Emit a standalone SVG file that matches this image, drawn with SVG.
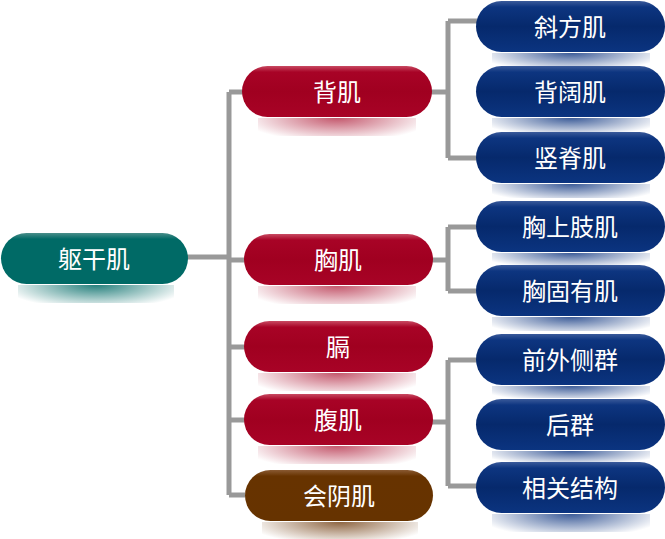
<svg xmlns="http://www.w3.org/2000/svg" width="665" height="539" viewBox="0 0 665 539">
<defs>
<linearGradient id="gBlue" x1="0" y1="0" x2="0" y2="1">
<stop offset="0" stop-color="#3a5a9a"/><stop offset="0.12" stop-color="#0d3580"/><stop offset="0.5" stop-color="#06296c"/><stop offset="1" stop-color="#0b3480"/>
</linearGradient>
<linearGradient id="gRed" x1="0" y1="0" x2="0" y2="1">
<stop offset="0" stop-color="#c84a62"/><stop offset="0.12" stop-color="#a80326"/><stop offset="0.5" stop-color="#a00020"/><stop offset="1" stop-color="#a80326"/>
</linearGradient>
<linearGradient id="gTeal" x1="0" y1="0" x2="0" y2="1">
<stop offset="0" stop-color="#4a8e8a"/><stop offset="0.12" stop-color="#006a66"/><stop offset="1" stop-color="#006a66"/>
</linearGradient>
<linearGradient id="gBrown" x1="0" y1="0" x2="0" y2="1">
<stop offset="0" stop-color="#8a5a32"/><stop offset="0.12" stop-color="#673300"/><stop offset="1" stop-color="#663300"/>
</linearGradient>
<radialGradient id="sBlue" cx="0.5" cy="0" r="0.6" gradientTransform="translate(0.5 0) scale(1 2.2) translate(-0.5 0)">
<stop offset="0" stop-color="#1a3f86" stop-opacity="0.85"/><stop offset="1" stop-color="#1a3f86" stop-opacity="0"/>
</radialGradient>
<radialGradient id="sRed" cx="0.5" cy="0" r="0.6" gradientTransform="translate(0.5 0) scale(1 2.2) translate(-0.5 0)">
<stop offset="0" stop-color="#b0203c" stop-opacity="0.75"/><stop offset="1" stop-color="#b0203c" stop-opacity="0"/>
</radialGradient>
<radialGradient id="sTeal" cx="0.5" cy="0" r="0.6" gradientTransform="translate(0.5 0) scale(1 2.2) translate(-0.5 0)">
<stop offset="0" stop-color="#006a66" stop-opacity="0.85"/><stop offset="1" stop-color="#006a66" stop-opacity="0"/>
</radialGradient>
<radialGradient id="sBrown" cx="0.5" cy="0" r="0.6" gradientTransform="translate(0.5 0) scale(1 2.2) translate(-0.5 0)">
<stop offset="0" stop-color="#7a4a20" stop-opacity="0.85"/><stop offset="1" stop-color="#7a4a20" stop-opacity="0"/>
</radialGradient>
</defs>
<style>
.t{font-family:"Noto Sans CJK SC","Noto Sans",sans-serif;font-size:24px;fill:#fff;text-anchor:middle;dominant-baseline:central}
.c{fill:none;stroke:#999;stroke-width:5}
</style>
<g id="connectors">
<path class="c" d="M186 257 H229 M229 92 V495 M229 92 H245 M229 260 H245 M229 347 H245 M229 420 H245 M229 495 H245"/>
<path class="c" d="M430 92 H448 M448 21 V158 M448 21 H478 M448 158 H478"/>
<path class="c" d="M430 260 H448 M448 227 V291 M448 227 H478 M448 291 H478"/>
<path class="c" d="M430 422 H448 M448 360 V486 M448 360 H478 M448 486 H478"/>
</g>
<g id="n-root"><rect x="18" y="285" width="156" height="18" fill="url(#sTeal)"/><rect x="1" y="233" width="187" height="51" rx="25.5" fill="url(#gTeal)"/><text class="t" x="94" y="257">躯干肌</text></g>
<g id="n-beiji"><rect x="258" y="118" width="158" height="18" fill="url(#sRed)"/><rect x="242" y="66" width="190" height="51" rx="25.5" fill="url(#gRed)"/><text class="t" x="337" y="90">背肌</text></g>
<g id="n-xiongji"><rect x="258" y="286" width="158" height="18" fill="url(#sRed)"/><rect x="244" y="234" width="189" height="51" rx="25.5" fill="url(#gRed)"/><text class="t" x="338" y="258">胸肌</text></g>
<g id="n-ge"><rect x="258" y="373" width="158" height="18" fill="url(#sRed)"/><rect x="244" y="321" width="189" height="51" rx="25.5" fill="url(#gRed)"/><text class="t" x="338" y="345">膈</text></g>
<g id="n-fuji"><rect x="258" y="446" width="158" height="18" fill="url(#sRed)"/><rect x="244" y="394" width="189" height="51" rx="25.5" fill="url(#gRed)"/><text class="t" x="338" y="418">腹肌</text></g>
<g id="n-huiyin"><rect x="262" y="522" width="156" height="17" fill="url(#sBrown)"/><rect x="245" y="470" width="188" height="51" rx="25.5" fill="url(#gBrown)"/><text class="t" x="339" y="494">会阴肌</text></g>
<g id="n-xiefang"><rect x="492" y="53" width="158" height="14" fill="url(#sBlue)"/><rect x="476" y="1" width="189" height="51" rx="25.5" fill="url(#gBlue)"/><text class="t" x="570" y="25">斜方肌</text></g>
<g id="n-beikuo"><rect x="492" y="118" width="158" height="14" fill="url(#sBlue)"/><rect x="476" y="66" width="189" height="51" rx="25.5" fill="url(#gBlue)"/><text class="t" x="570" y="90">背阔肌</text></g>
<g id="n-shuji"><rect x="492" y="184" width="158" height="14" fill="url(#sBlue)"/><rect x="476" y="132" width="189" height="51" rx="25.5" fill="url(#gBlue)"/><text class="t" x="570" y="156">竖脊肌</text></g>
<g id="n-xiongshangzhi"><rect x="492" y="253" width="158" height="12" fill="url(#sBlue)"/><rect x="476" y="201" width="189" height="51" rx="25.5" fill="url(#gBlue)"/><text class="t" x="570" y="225">胸上肢肌</text></g>
<g id="n-xiongguyou"><rect x="492" y="317" width="158" height="14" fill="url(#sBlue)"/><rect x="476" y="265" width="189" height="51" rx="25.5" fill="url(#gBlue)"/><text class="t" x="570" y="289">胸固有肌</text></g>
<g id="n-qianwai"><rect x="492" y="386" width="158" height="12" fill="url(#sBlue)"/><rect x="476" y="334" width="189" height="51" rx="25.5" fill="url(#gBlue)"/><text class="t" x="570" y="358">前外侧群</text></g>
<g id="n-hou"><rect x="492" y="451" width="158" height="11" fill="url(#sBlue)"/><rect x="476" y="399" width="189" height="51" rx="25.5" fill="url(#gBlue)"/><text class="t" x="570" y="423">后群</text></g>
<g id="n-xiangguan"><rect x="492" y="514" width="158" height="18" fill="url(#sBlue)"/><rect x="476" y="462" width="189" height="51" rx="25.5" fill="url(#gBlue)"/><text class="t" x="570" y="486">相关结构</text></g>
</svg>
